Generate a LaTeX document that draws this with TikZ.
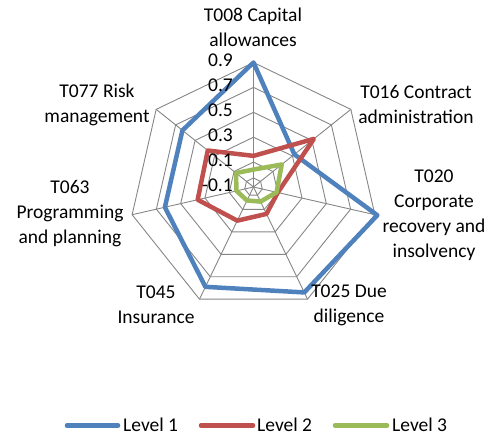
\documentclass[tikz,border=0pt]{standalone}
\usepackage{fontspec}
\setmainfont{Carlito}
\definecolor{lvblue}{HTML}{4F81BD}
\definecolor{lvred}{HTML}{C0504D}
\definecolor{lvgreen}{HTML}{9BBB59}
\definecolor{gridgray}{RGB}{134,134,134}
\begin{document}
\begin{tikzpicture}[x=1pt,y=1pt,
  grid/.style={draw=gridgray,line width=0.9pt},
  axislbl/.style={align=center,inner sep=0pt,font=\fontsize{19.5}{25}\selectfont},
  ticklbl/.style={anchor=east,inner sep=0pt,font=\fontsize{19.5}{25}\selectfont},
  series/.style={line width=4.5pt,line join=round,line cap=round},
  lvone/.style={series,draw=lvblue},
  lvtwo/.style={series,draw=lvred},
  lvthree/.style={series,draw=lvgreen}]
\useasboundingbox (0,0) rectangle (492,437);

\coordinate (c) at (253.5,250);

\begin{scope}[shift={(c)}]
% rings and spokes
\foreach \r in {9,24.9,49.8,74.7,99.6,124.5}
  \draw[grid] (90:\r) \foreach \k in {1,...,6}{ -- ({90-\k*360/7}:\r)} -- cycle;
\foreach \k in {0,...,6}
  \coordinate (o\k) at ({90-\k*360/7}:124.5);
\foreach \k in {0,...,6}
  \draw[grid] (0,0) -- (o\k);

% data points
\foreach \v [count=\i] in {0.9,0.32,0.92,0.84,0.79,0.63,0.63}
  \coordinate (a\i) at ({90-(\i-1)*360/7}:{(\v+0.1)*124.5});
\foreach \v [count=\i] in {0.15,0.52,0.10,0.14,0.20,0.36,0.37}
  \coordinate (b\i) at ({90-(\i-1)*360/7}:{(\v+0.1)*124.5});
\foreach \v [count=\i] in {0.04,0.19,0.09,0.03,0.02,0.04,0.08}
  \coordinate (g\i) at ({90-(\i-1)*360/7}:{(\v+0.1)*124.5});
\end{scope}

\draw[lvone] (a1) -- (a2) -- (a3) -- (a4) -- (a5) -- (a6) -- (a7) -- cycle;
\draw[lvtwo] (b1) -- (b2) -- (b3) -- (b4) -- (b5) -- (b6) -- (b7) -- cycle;
\draw[lvthree] (g1) -- (g2) -- (g3) -- (g4) -- (g5) -- (g6) -- (g7) -- cycle;

% value labels
\node[ticklbl](t9) at (233,376.5){0.9};
\node[ticklbl](t7) at (233,351.6){0.7};
\node[ticklbl](t5) at (233,326.8){0.5};
\node[ticklbl](t3) at (233,301.9){0.3};
\node[ticklbl](t1) at (233,277){0.1};
\node[ticklbl](tm) at (233,252){-0.1};

% axis labels
\node[axislbl](n1) at (253,409.5){T008 Capital\\allowances};
\node[axislbl](n2) at (416,332.5){T016 Contract\\administration};
\node[axislbl](n3) at (434,221.5){T020\\Corporate\\recovery and\\insolvency};
\node[axislbl](n4) at (349,132){T025 Due\\diligence};
\node[axislbl](n5) at (156,132){T045\\Insurance};
\node[axislbl](n6) at (70,223){T063\\Programming\\and planning};
\node[axislbl](n7) at (97,332.5){T077 Risk\\management};

% legend
\coordinate (k1a) at (67,11.5);  \coordinate (k1b) at (118,11.5);
\coordinate (k2a) at (201,11.5); \coordinate (k2b) at (253,11.5);
\coordinate (k3a) at (335,11.5); \coordinate (k3b) at (387,11.5);
\draw[lvone] (k1a) -- (k1b);
\draw[lvtwo] (k2a) -- (k2b);
\draw[lvthree] (k3a) -- (k3b);
\node[axislbl,anchor=west](l1) at (123,12.5){Level 1};
\node[axislbl,anchor=west](l2) at (257,12.5){Level 2};
\node[axislbl,anchor=west](l3) at (392,12.5){Level 3};
\end{tikzpicture}
\end{document}
